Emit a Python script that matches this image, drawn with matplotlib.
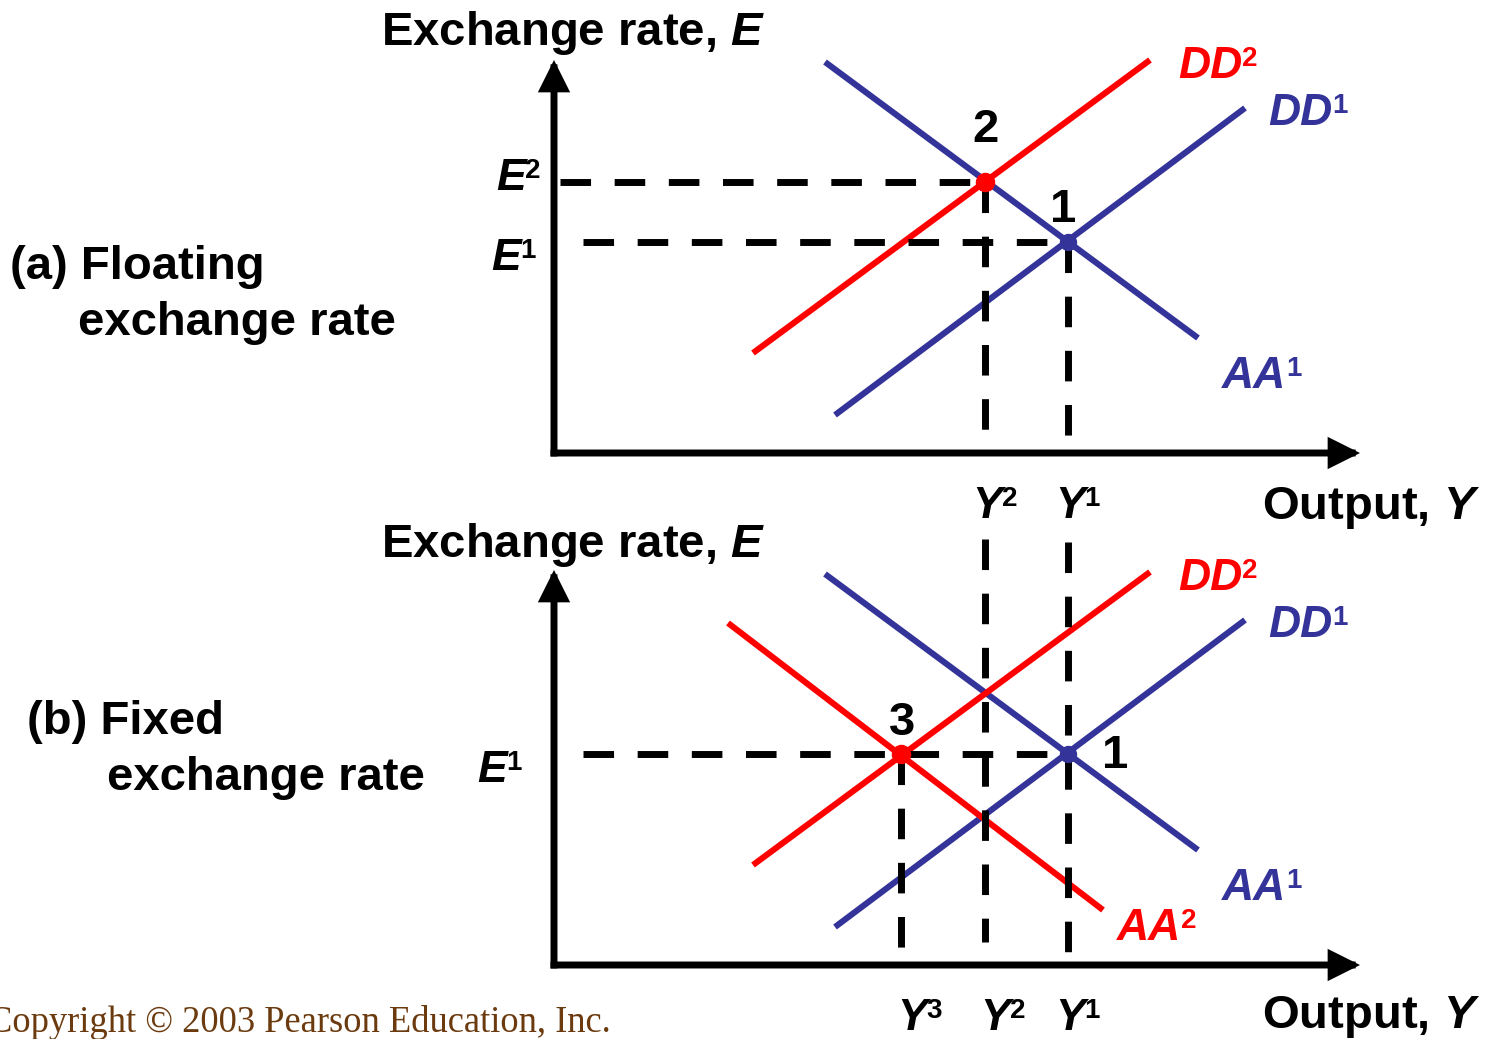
import numpy as np
import matplotlib.pyplot as plt

plt.rcParams['font.family'] = 'Liberation Sans'
plt.rcParams['font.weight'] = 'bold'
plt.rcParams['mathtext.fontset'] = 'custom'
plt.rcParams['mathtext.rm'] = 'Liberation Sans:bold'
plt.rcParams['mathtext.it'] = 'Liberation Sans:bold:italic'
plt.rcParams['mathtext.bf'] = 'Liberation Sans:bold'

# ================== DATA (output Y, exchange rate E) ==================
Y1, Y2, Y3 = 5.14, 4.31, 3.47
E1, E2 = 2.11, 2.71

aa1_y = [2.71, 6.44]
aa1_e = [3.91, 1.15]
dd1_y = [2.81, 6.91]
dd1_e = [0.38, 3.45]
dd2_y = [1.99, 5.96]
dd2_e = [1.00, 3.93]
aa2_y = [1.74, 5.49]
aa2_e = [3.42, 0.55]

BLUE = '#333399'
RED = '#ff0000'

W, H = 1486, 1039
fig = plt.figure(figsize=(W / 100, H / 100), dpi=100)


def panel(origin_y, top_px):
    # origin of the diagram at pixel (554, origin_y), 100 px per unit
    ax = fig.add_axes([554 / W, (H - origin_y) / H, 810 / W, (origin_y - top_px) / H])
    ax.set_xlim(0, 8.10)
    ax.set_ylim(0, (origin_y - top_px) / 100)
    ax.axis('off')
    return ax


def axes_arrows(ax, ytip):
    kw = dict(arrowstyle='-|>', lw=5, color='black', mutation_scale=38,
              shrinkA=0, shrinkB=0, capstyle='projecting', joinstyle='miter')
    ax.annotate('', xy=(0, ytip), xytext=(0, 0), arrowprops=kw, annotation_clip=False)
    ax.annotate('', xy=(8.06, 0), xytext=(0, 0), arrowprops=kw, annotation_clip=False)


def curve(ax, y, e, color):
    ax.plot(y, e, color=color, lw=4.4, solid_capstyle='butt', clip_on=False, zorder=2)


def dashed(ax, y, e):
    ax.plot(y, e, color='black', lw=5, ls=(0, (4.4, 3.4)), dash_capstyle='butt',
            clip_on=False, zorder=3)


def dot(ax, y, e, color, size):
    ax.plot([y], [e], 'o', color=color, ms=size, mec=color, clip_on=False, zorder=4)


# ---------- (a) floating ----------
top = panel(453, 53)
axes_arrows(top, 3.93)
curve(top, aa1_y, aa1_e, BLUE)
curve(top, dd1_y, dd1_e, BLUE)
curve(top, dd2_y, dd2_e, RED)
dashed(top, [0.06, Y2], [E2, E2])
dashed(top, [0.29, Y1], [E1, E1])
dashed(top, [Y2, Y2], [E2, 0.13])
dashed(top, [Y1, Y1], [E1, 0.12])
dot(top, Y2, E2, RED, 13)
dot(top, Y1, E1, BLUE, 11.5)

# ---------- (b) fixed ----------
bot = panel(965, 525)
axes_arrows(bot, 3.95)
curve(bot, aa1_y, aa1_e, BLUE)
curve(bot, dd1_y, dd1_e, BLUE)
curve(bot, dd2_y, dd2_e, RED)
curve(bot, aa2_y, aa2_e, RED)
dashed(bot, [0.29, Y1], [E1, E1])
dashed(bot, [Y3, Y3], [E1, 0.12])
dashed(bot, [Y2, Y2], [4.26, 0.23])
dashed(bot, [Y1, Y1], [4.23, 0.12])
dot(bot, Y3, E1, RED, 13)
dot(bot, Y1, E1, BLUE, 11.5)

# ================== LABELS (pixel overlay) ==================
lab = fig.add_axes([0, 0, 1, 1], facecolor='none')
lab.set_xlim(0, W)
lab.set_ylim(H, 0)
lab.axis('off')
renderer = fig.canvas.get_renderer()


def t(x, y, s, size=34, color='black', ha='left'):
    lab.text(x, y, s, fontsize=size, color=color, ha=ha, va='baseline', fontweight='bold')


def sup(x, y, base, num, color='black', ha='left', size=32, ssize=20):
    # italic letter(s) with a small upright superscript digit, top-aligned with the caps
    b = lab.text(x, y, base, fontsize=size, color=color, va='baseline',
                 fontweight='bold', fontstyle='italic')
    s = lab.text(x, y, num, fontsize=ssize, color=color, va='baseline', fontweight='bold')
    wb = b.get_window_extent(renderer).width
    ws = s.get_window_extent(renderer).width
    if ha == 'right':
        x = x - wb - ws
        b.set_x(x)
    raise_px = 0.716 * (size - ssize) * 100 / 72
    s.set_position((x + wb, y - raise_px))


for dy in (0, 509):
    t(381, 45 + dy + (dy > 0) * 3, r'Exchange rate, $E$')
    t(1262, 519 + dy, r'Output, $Y$')
for dy in (0, 512):
    sup(1178, 78 + dy, 'DD', '2', RED)
    sup(1268, 125 + dy, 'DD', '1', BLUE)
    sup(1222, 388 + dy, 'AA', '1', BLUE)

t(10, 279, '(a) Floating')
t(78, 335, 'exchange rate')
t(27, 734, '(b) Fixed')
t(107, 790, 'exchange rate')

t(985, 142, '2', ha='center')
t(1063, 222, '1', ha='center')
t(902, 735, '3', ha='center')
t(1102, 768, '1')

sup(1117, 940, 'AA', '2', RED)

sup(541, 190, 'E', '2', ha='right')
sup(536, 270, 'E', '1', ha='right')
sup(522, 782, 'E', '1', ha='right')

sup(972, 518, 'Y', '2')
sup(1055, 518, 'Y', '1')
sup(897, 1030, 'Y', '3')
sup(980, 1030, 'Y', '2')
sup(1055, 1030, 'Y', '1')

lab.text(-12, 1032, 'Copyright \u00a9 2003 Pearson Education, Inc.', family='Liberation Serif',
         fontweight='normal', fontsize=26.3, color='#6b3a0e', va='baseline')

fig.savefig('out.png', dpi=100)
